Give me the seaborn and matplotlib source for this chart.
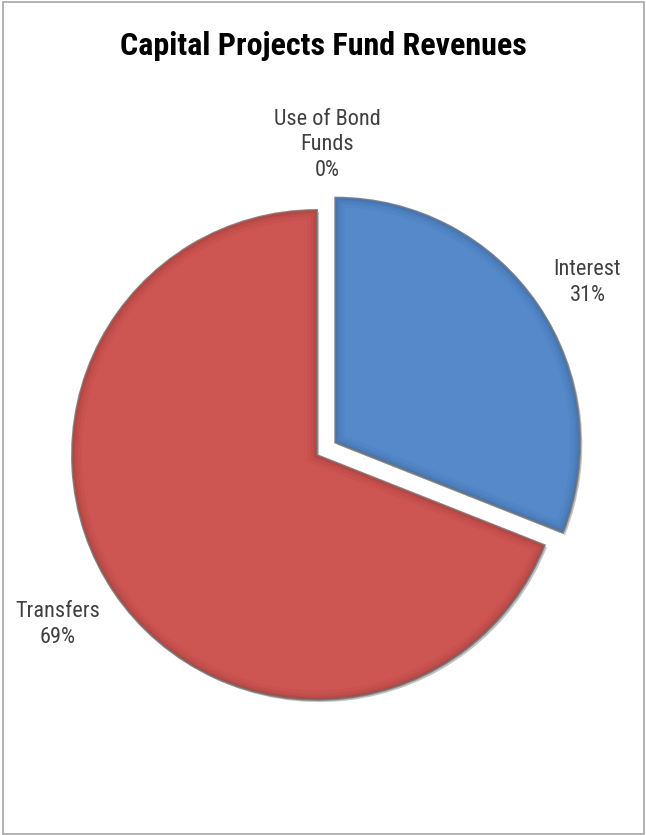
import numpy as np
import matplotlib
matplotlib.use("Agg")
import matplotlib.pyplot as plt
import matplotlib.patheffects as pe
from matplotlib.patches import Rectangle, Wedge
import seaborn as sns

# Revenue shares (percent)
categories = ["Use of Bond\nFunds", "Interest", "Transfers"]
shares = [0, 31, 69]
colors = ["#9BBB59", "#5689CA", "#CD5653"]
shade = ["#5E7A2E", "#2F5A93", "#8E2E2B"]
explode = [0.0, 0.09, 0.0]

sns.set_theme(style="white")
plt.rcParams["font.family"] = ["Roboto Condensed", "DejaVu Sans"]

fig = plt.figure(figsize=(6.46, 8.35), dpi=100)
ax = fig.add_axes([0, 0, 1, 1])

wedges, _ = ax.pie(
    shares,
    colors=colors,
    explode=explode,
    startangle=90,
    counterclock=False,
    radius=1.0,
    wedgeprops=dict(edgecolor="#8a8a8a", linewidth=1.4),
)
for w in wedges:
    w.set_path_effects([
        pe.SimplePatchShadow(offset=(1.5, -1.5), shadow_rgbFace="#9a9a9a", alpha=0.6),
        pe.Normal(),
    ])

# Soft bevel: darker strokes along the inside of each slice, clipped to the slice
for w, sc in zip(wedges, shade):
    if w.theta2 - w.theta1 < 1e-6:
        continue
    for lw, a in [(14, 0.08), (9, 0.10), (5, 0.14), (2.5, 0.18)]:
        rim = Wedge(w.center, w.r, w.theta1, w.theta2, fill=False,
                    edgecolor=sc, linewidth=lw, alpha=a, zorder=w.get_zorder() + 0.1)
        ax.add_patch(rim)
        rim.set_clip_path(w)

# Place the unit circle: radius 245 px, centre at (317, 455) px from top-left
R = 245.0
cx, cy = 317.0, 455.0
W, H = 646.0, 835.0
ax.set_aspect("auto")
ax.set_xlim(-cx / R, (W - cx) / R)
ax.set_ylim(-(H - cy) / R, cy / R)
ax.axis("off")

# Category labels placed outside each wedge at its mid-angle
label_dist = [1.27, 1.22, 1.25]
label_nudge = [(10, -1), (5, -8), (-6, 3)]  # small offsets in pixels
for w, name, val, d, (nx, ny) in zip(wedges, categories, shares, label_dist, label_nudge):
    mid = np.deg2rad((w.theta1 + w.theta2) / 2.0)
    x0, y0 = w.center
    ax.annotate(f"{name}\n{val}%", (x0 + d * np.cos(mid), y0 + d * np.sin(mid)),
                xytext=(nx * 0.72, ny * 0.72), textcoords="offset points",
                ha="center", va="center", fontsize=16, color="#404040",
                linespacing=1.3)

fig.text(0.5, 1 - 46 / H, "Capital Projects Fund Revenues", ha="center", va="center",
         fontsize=23, fontweight="bold", color="black")

# Chart-area border
fig.patches.append(Rectangle((3 / W, 1 / H), 641 / W, 832 / H, transform=fig.transFigure,
                             fill=False, edgecolor="#a6a6a6", linewidth=1.2))

fig.savefig("out.png", dpi=100)
